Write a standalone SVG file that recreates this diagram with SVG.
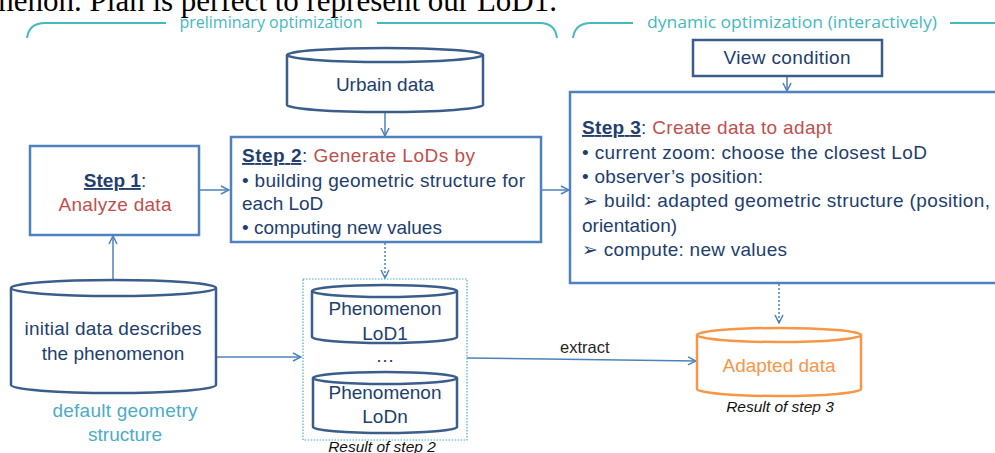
<svg xmlns="http://www.w3.org/2000/svg" width="995" height="453" viewBox="0 0 995 453">
<defs>
<style>
.t{font-family:"Liberation Sans",Arial,sans-serif;fill:#223e6e;font-size:19px}
.red{fill:#c0504d}
.u{text-decoration:underline;font-weight:bold}
.teal{font-family:"Open Sans","Liberation Sans",sans-serif;fill:#45b9bd;font-size:16px}
.cyl{fill:#fff;stroke:#3b5d8c;stroke-width:2.5}
.box{fill:#fff;stroke:#4f81bd;stroke-width:2.5}
.con{fill:none;stroke:#4f81bd;stroke-width:1.5}
.dot{stroke-dasharray:2 2}
.cap{font-family:"Liberation Sans",Arial,sans-serif;font-style:italic;font-size:15.5px;fill:#111}
</style>
<marker id="ah" viewBox="0 0 10 10" refX="9" refY="5" markerWidth="10" markerHeight="10" markerUnits="userSpaceOnUse" orient="auto">
<path d="M1,1 L9,5 L1,9" fill="none" stroke="#4f81bd" stroke-width="1.5"/>
</marker>
</defs>
<rect width="995" height="453" fill="#fff"/>
<text x="557" y="11" text-anchor="end" font-family="Liberation Serif,Times New Roman,serif" font-size="31" fill="#000">phenomenon. Plan is perfect to represent our LoD1.</text>

<g id="brackets" fill="none" stroke="#45b9bd" stroke-width="2">
<path d="M27,38 Q29,23 45,23 H166"/>
<path d="M377,23 H540 Q555,23 557,38"/>
<path d="M573,38 Q575,23 591,23 H633"/>
<path d="M950,23 H995"/>
</g>
<text class="teal" x="271" y="28" text-anchor="middle" textLength="183" lengthAdjust="spacingAndGlyphs">preliminary optimization</text>
<text class="teal" x="792" y="28" text-anchor="middle" textLength="290" lengthAdjust="spacingAndGlyphs">dynamic optimization (interactively)</text>

<g id="connectors">
<line class="con" x1="385" y1="113" x2="385" y2="136" marker-end="url(#ah)"/>
<line class="con" x1="199" y1="190" x2="229" y2="190" marker-end="url(#ah)"/>
<line class="con" x1="542" y1="190" x2="569" y2="190" marker-end="url(#ah)"/>
<line class="con" x1="113" y1="282" x2="113" y2="236" marker-end="url(#ah)"/>
<line class="con" x1="216" y1="357" x2="301" y2="357" marker-end="url(#ah)"/>
<line class="con dot" x1="385" y1="243" x2="385" y2="278" marker-end="url(#ah)"/>
<line class="con" x1="787" y1="76" x2="787" y2="91" marker-end="url(#ah)"/>
<line class="con dot" x1="779" y1="284" x2="779" y2="323" marker-end="url(#ah)"/>
<line class="con" x1="467" y1="358" x2="696" y2="361" marker-end="url(#ah)"/>
<text x="560" y="353" font-family="Liberation Sans,Arial,sans-serif" font-size="16.5" fill="#262626">extract</text>
</g>

<g id="urbain">
<path class="cyl" d="M287,55 V105 A98,7 0 0 0 483,105 V55"/>
<ellipse class="cyl" cx="385" cy="55" rx="98" ry="7"/>
<text class="t" x="385" y="91" text-anchor="middle">Urbain data</text>
</g>

<g id="step1">
<rect class="box" x="30" y="146" width="169" height="89"/>
<text class="t" x="115" y="187" text-anchor="middle"><tspan class="u">Step 1</tspan>:</text>
<text class="t red" x="115" y="211" text-anchor="middle" textLength="113" lengthAdjust="spacing">Analyze data</text>
</g>

<g id="step2">
<rect class="box" x="231" y="137" width="310" height="105"/>
<text class="t" x="242" y="162" textLength="233" lengthAdjust="spacing"><tspan class="u">Step 2</tspan>: <tspan class="red">Generate LoDs by</tspan></text>
<text class="t" x="242" y="187" textLength="283" lengthAdjust="spacing">• building geometric structure for</text>
<text class="t" x="242" y="210">each LoD</text>
<text class="t" x="242" y="234">• computing new values</text>
</g>

<g id="view">
<rect x="693" y="40" width="189" height="36" fill="#fff" stroke="#3b5d8c" stroke-width="2.5"/>
<text class="t" x="787" y="64" text-anchor="middle" textLength="127" lengthAdjust="spacing">View condition</text>
</g>

<g id="step3">
<rect class="box" x="570" y="92" width="440" height="191"/>
<text class="t" x="582" y="134" textLength="250" lengthAdjust="spacing"><tspan class="u">Step 3</tspan>: <tspan class="red">Create data to adapt</tspan></text>
<text class="t" x="582" y="159" textLength="345" lengthAdjust="spacing">• current zoom: choose the closest LoD</text>
<text class="t" x="582" y="183" textLength="181" lengthAdjust="spacing">• observer’s position:</text>
<text class="t" x="582" y="207" textLength="408" lengthAdjust="spacing">➢ build: adapted geometric structure (position,</text>
<text class="t" x="582" y="232">orientation)</text>
<text class="t" x="582" y="256" textLength="205" lengthAdjust="spacing">➢ compute: new values</text>
</g>

<g id="initial">
<path class="cyl" d="M11,288 V385 A102.5,8 0 0 0 216,385 V288"/>
<ellipse class="cyl" cx="113.5" cy="288" rx="102.5" ry="8"/>
<text class="t" x="113" y="335" text-anchor="middle" textLength="177" lengthAdjust="spacing">initial data describes</text>
<text class="t" x="113" y="360" text-anchor="middle">the phenomenon</text>
<text class="t" x="125" y="417" text-anchor="middle" style="fill:#4bacc6" textLength="145" lengthAdjust="spacing">default geometry</text>
<text class="t" x="125" y="441" text-anchor="middle" style="fill:#4bacc6">structure</text>
</g>

<g id="result2">
<rect x="303" y="279" width="164" height="161" fill="none" stroke="#4bacc6" stroke-width="1.2" stroke-dasharray="1.5 1.5"/>
<path class="cyl" d="M312,291 V337 A72.5,6 0 0 0 457,337 V291"/>
<ellipse class="cyl" cx="384.5" cy="291" rx="72.5" ry="6"/>
<text class="t" x="385" y="315" text-anchor="middle">Phenomenon</text>
<text class="t" x="385" y="340" text-anchor="middle">LoD1</text>
<text class="t" x="385" y="362" text-anchor="middle" font-size="16">…</text>
<path class="cyl" d="M313,378 V427 A72,6 0 0 0 457,427 V378"/>
<ellipse class="cyl" cx="385" cy="378" rx="72" ry="6"/>
<text class="t" x="385" y="399" text-anchor="middle">Phenomenon</text>
<text class="t" x="385" y="423" text-anchor="middle">LoDn</text>
<text class="cap" x="382" y="452" text-anchor="middle">Result of step 2</text>
</g>

<g id="adapted">
<path d="M697,335 V389 A82,7 0 0 0 861,389 V335" fill="#fff" stroke="#f79646" stroke-width="2.5"/>
<ellipse cx="779" cy="335" rx="82" ry="7" fill="#fff" stroke="#f79646" stroke-width="2.5"/>
<text x="779" y="372" text-anchor="middle" font-family="Liberation Sans,Arial,sans-serif" font-size="19" fill="#f79646">Adapted data</text>
<text class="cap" x="780" y="412" text-anchor="middle">Result of step 3</text>
</g>
</svg>
